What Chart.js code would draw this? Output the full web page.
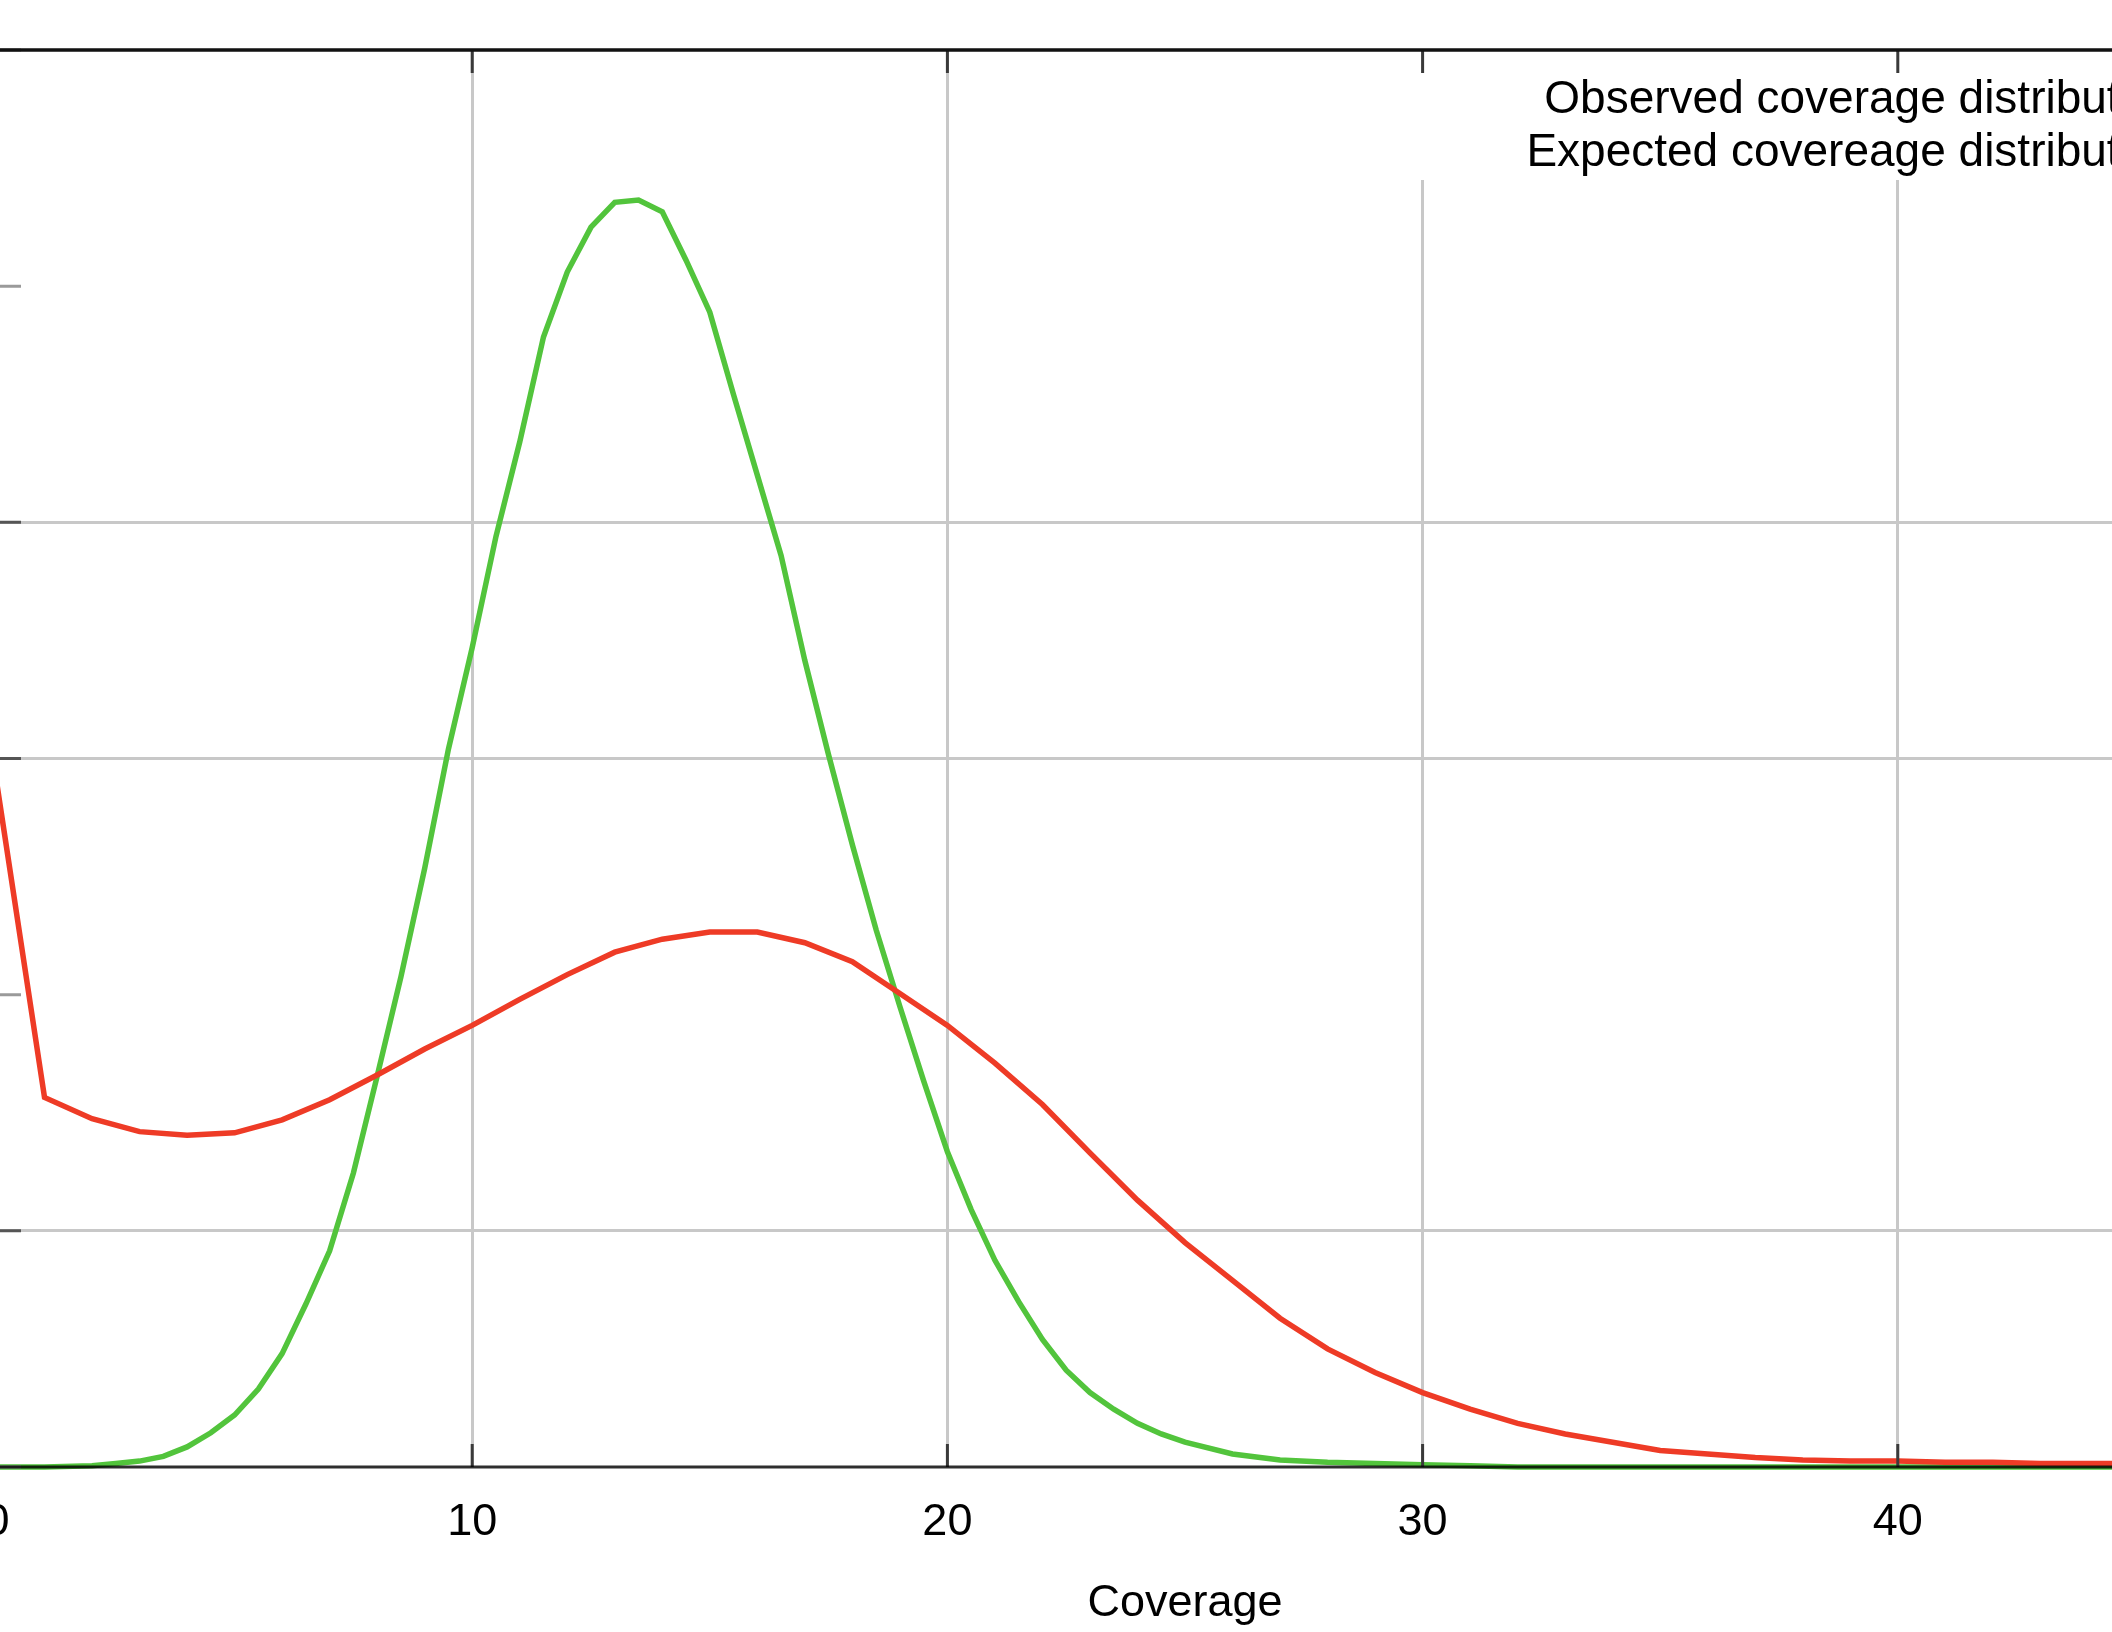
<!DOCTYPE html>
<html>
<head>
<meta charset="utf-8">
<title>Coverage distribution</title>
<script src="https://cdn.jsdelivr.net/npm/chart.js@4.4.1/dist/chart.umd.min.js"></script>
<style>
  html, body { margin: 0; padding: 0; background: #fff; width: 2112px; height: 1632px; overflow: hidden; }
  #wrap { position: relative; width: 2112px; height: 1632px; overflow: hidden; }
  #chart { position: absolute; left: -200px; top: 0; }
</style>
</head>
<body>
<div id="wrap"><canvas id="chart" width="2620" height="1632"></canvas></div>
<script>
// Observed coverage (integer coverage values)
const coverage = [0, 1, 2, 3, 4, 5, 6, 7, 8, 9, 10, 11, 12, 13, 14, 15, 16, 17, 18, 19, 20,
  21, 22, 23, 24, 25, 26, 27, 28, 29, 30, 31, 32, 33, 34, 35, 36, 37, 38, 39, 40,
  41, 42, 43, 44, 45, 46, 47, 48, 49, 50];
const observed = [0.0578, 0.0313, 0.0295, 0.0284, 0.0281, 0.0283, 0.0294, 0.0311, 0.0332, 0.0354, 0.0374,
  0.0396, 0.0417, 0.0436, 0.0447, 0.0453, 0.0453, 0.0444, 0.0428, 0.0401, 0.0374,
  0.0342, 0.0307, 0.0266, 0.0226, 0.0190, 0.0158, 0.0126, 0.0100, 0.0080, 0.0063,
  0.0049, 0.0037, 0.0028, 0.0021, 0.0014, 0.0011, 0.0008, 0.0006, 0.0005, 0.0005,
  0.0004, 0.0004, 0.0003, 0.0003, 0.0003, 0.0003, 0.0002, 0.0002, 0.0002, 0.0002];

// Expected coverage (finer sampling around the peak)
const expectedCoverage = [0, 1, 2, 2.5, 3, 3.5, 4, 4.5, 5, 5.5, 6, 6.5, 7, 7.5, 8, 8.5, 9, 9.5, 10,
  10.5, 11, 11.5, 12, 12.5, 13, 13.5, 14, 14.5, 15, 15.5, 16, 16.5, 17, 17.5, 18, 18.5, 19, 19.5, 20,
  20.5, 21, 21.5, 22, 22.5, 23, 23.5, 24, 24.5, 25, 26, 27, 28, 29, 30, 31, 32, 40, 50];
const expected = [0, 0, 0.0001, 0.0003, 0.0005, 0.0009, 0.0017, 0.0029, 0.0044, 0.0066, 0.0096, 0.0138, 0.0183, 0.0249, 0.0331, 0.0415, 0.0507, 0.0608, 0.0694,
  0.0788, 0.0868, 0.0957, 0.1012, 0.1050, 0.1071, 0.1073, 0.1063, 0.1022, 0.0978, 0.0908, 0.0840, 0.0772, 0.0683, 0.0603, 0.0527, 0.0455, 0.0390, 0.0327, 0.0267,
  0.0218, 0.0175, 0.0140, 0.0108, 0.0082, 0.0063, 0.0049, 0.0037, 0.0028, 0.0021, 0.0011, 0.0006, 0.0004, 0.0003, 0.0002, 0.0001, 0, 0, 0];

const seriesLabels = ['Observed coverage distribution', 'Expected covereage distribution'];
const xTicks = [0, 10, 20, 30, 40, 50];
const yTicks = [0, 0.02, 0.04, 0.06, 0.08, 0.10, 0.12];
const yGridValues = [0.02, 0.06, 0.08];

const FONT = '"Liberation Sans", Arial, Helvetica, sans-serif';
const RED = '#ee3b26';
const GREEN = '#52c43c';

function hasGrid(v) {
  return yGridValues.some(g => Math.abs(g - v) < 1e-6);
}

// gnuplot style frame: inward ticks, mirrored top ticks, opaque key on the right
const gnuplotFrame = {
  id: 'gnuplotFrame',
  beforeDatasetsDraw(chart) {
    const { ctx, chartArea } = chart;
    ctx.save();
    ctx.fillStyle = '#fff';
    ctx.fillRect(1590, chartArea.top + 2, chartArea.right - 1590, 178 - chartArea.top);
    ctx.restore();
  },
  afterDatasetsDraw(chart) {
    const { ctx, chartArea } = chart;
    const xs = chart.scales.x;
    const ys = chart.scales.y;
    ctx.save();
    ctx.lineCap = 'butt';

    // x ticks, bottom and top
    ctx.strokeStyle = '#3a3a3a';
    ctx.lineWidth = 3;
    xs.ticks.forEach(t => {
      const px = xs.getPixelForValue(t.value);
      ctx.beginPath();
      ctx.moveTo(px, chartArea.bottom);
      ctx.lineTo(px, chartArea.bottom - 23);
      ctx.moveTo(px, chartArea.top);
      ctx.lineTo(px, chartArea.top + 23);
      ctx.stroke();
    });

    // y ticks on the left
    ys.ticks.forEach(t => {
      const py = ys.getPixelForValue(t.value);
      ctx.strokeStyle = hasGrid(t.value) ? '#555' : '#9a9a9a';
      ctx.beginPath();
      ctx.moveTo(chartArea.left, py);
      ctx.lineTo(chartArea.left + 24, py);
      ctx.moveTo(chartArea.right, py);
      ctx.lineTo(chartArea.right - 24, py);
      ctx.stroke();
    });

    // border
    ctx.strokeStyle = '#111';
    ctx.lineWidth = 3.5;
    ctx.beginPath();
    ctx.moveTo(chartArea.left, chartArea.top);
    ctx.lineTo(chartArea.right, chartArea.top);
    ctx.moveTo(chartArea.left, chartArea.top);
    ctx.lineTo(chartArea.left, chartArea.bottom);
    ctx.moveTo(chartArea.right, chartArea.top);
    ctx.lineTo(chartArea.right, chartArea.bottom);
    ctx.stroke();
    ctx.strokeStyle = 'rgba(0,0,0,0.82)';
    ctx.lineWidth = 3;
    ctx.beginPath();
    ctx.moveTo(chartArea.left, chartArea.bottom);
    ctx.lineTo(chartArea.right, chartArea.bottom);
    ctx.stroke();

    // key
    ctx.font = '46px ' + FONT;
    ctx.fillStyle = '#000';
    ctx.textAlign = 'right';
    ctx.textBaseline = 'alphabetic';
    const keyY = [97, 150];
    chart.data.datasets.forEach((ds, i) => {
      ctx.fillText(ds.label, 2381, keyY[i] + 16);
      ctx.strokeStyle = ds.borderColor;
      ctx.lineWidth = 5.5;
      ctx.beginPath();
      ctx.moveTo(2400, keyY[i]);
      ctx.lineTo(2530, keyY[i]);
      ctx.stroke();
    });
    ctx.restore();
  }
};

const ctx = document.getElementById('chart').getContext('2d');
const chart = new Chart(ctx, {
  type: 'line',
  data: {
    datasets: [{
      label: seriesLabels[0],
      data: coverage.map((c, i) => ({ x: c, y: observed[i] })),
      borderColor: RED,
      borderWidth: 5.5,
      pointRadius: 0,
      tension: 0,
      fill: false,
      clip: false
    }, {
      label: seriesLabels[1],
      data: expectedCoverage.map((c, i) => ({ x: c, y: expected[i] })),
      borderColor: GREEN,
      borderWidth: 5.5,
      pointRadius: 0,
      tension: 0,
      fill: false,
      clip: false
    }]
  },
  options: {
    responsive: false,
    animation: false,
    devicePixelRatio: 1,
    layout: { padding: { left: 0, right: 47, top: 50, bottom: 0 } },
    plugins: {
      legend: { display: false },
      tooltip: { enabled: false }
    },
    scales: {
      x: {
        type: 'linear',
        min: 0,
        max: 50,
        afterBuildTicks: s => { s.ticks = xTicks.map(v => ({ value: v })); },
        afterFit: s => { s.height = 165; s.paddingLeft = 0; s.paddingRight = 0; },
        border: { display: false },
        grid: { color: '#c8c8c8', lineWidth: 3, drawTicks: false },
        ticks: { color: '#000', font: { family: FONT, size: 45 }, padding: 29, maxRotation: 0 },
        title: {
          display: true,
          text: 'Coverage',
          color: '#000',
          font: { family: FONT, size: 45 },
          padding: { top: 0, bottom: 1 }
        }
      },
      y: {
        type: 'linear',
        min: 0,
        max: 0.12,
        afterBuildTicks: s => { s.ticks = yTicks.map(v => ({ value: v })); },
        afterFit: s => { s.width = 197; },
        border: { display: false },
        grid: {
          color: c => (c.tick && hasGrid(c.tick.value)) ? '#c8c8c8' : 'rgba(0,0,0,0)',
          lineWidth: 3,
          drawTicks: false
        },
        ticks: { color: '#000', font: { family: FONT, size: 45 }, padding: 12 }
      }
    }
  },
  plugins: [gnuplotFrame]
});
</script>
</body>
</html>
